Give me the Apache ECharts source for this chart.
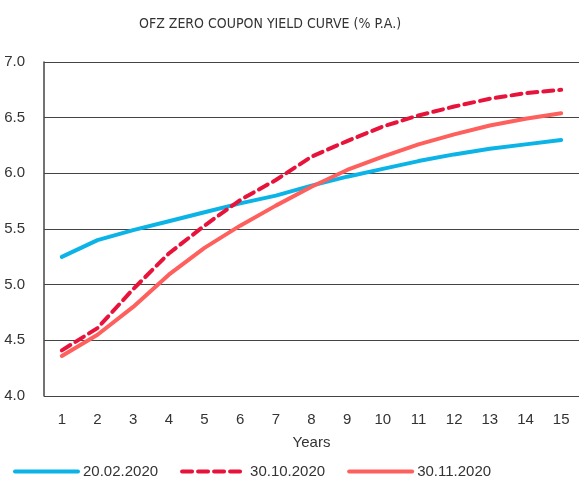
<!DOCTYPE html>
<html>
<head>
<meta charset="utf-8">
<script src="https://cdn.jsdelivr.net/npm/echarts@6/dist/echarts.min.js"></script>
<style>
  html, body { margin: 0; padding: 0; background: #fff; }
  #chart { width: 579px; height: 482px; }
</style>
</head>
<body>
<div id="chart"></div>
<script>
const years = ['1', '2', '3', '4', '5', '6', '7', '8', '9', '10', '11', '12', '13', '14', '15'];
const feb2020 = [5.25, 5.40, 5.49, 5.57, 5.65, 5.73, 5.80, 5.89, 5.97, 6.04, 6.11, 6.17, 6.22, 6.26, 6.30];
const oct2020 = [4.41, 4.61, 4.96, 5.28, 5.53, 5.76, 5.94, 6.15, 6.29, 6.42, 6.52, 6.60, 6.67, 6.72, 6.75];
const nov2020 = [4.36, 4.55, 4.80, 5.09, 5.33, 5.53, 5.71, 5.88, 6.03, 6.15, 6.26, 6.35, 6.43, 6.49, 6.54];
const yTicks = ['4.0', '4.5', '5.0', '5.5', '6.0', '6.5', '7.0'];

const font = 'Liberation Sans';
const textColor = '#333';

const chart = echarts.init(document.getElementById('chart'));

chart.setOption({
    backgroundColor: '#fff',
    animation: false,
    title: {
        text: 'OFZ ZERO COUPON YIELD CURVE (% P.A.)',
        left: 134,
        top: 12,
        textStyle: {
            fontFamily: '"DejaVu Sans Condensed", "Liberation Sans"',
            fontSize: 14,
            fontWeight: 'normal',
            color: textColor
        }
    },
    legend: {
        left: 8,
        bottom: -2,
        itemWidth: 63,
        itemHeight: 14,
        itemGap: 22,
        itemStyle: { opacity: 0 },
        lineStyle: { width: 4 },
        textStyle: { fontFamily: font, fontSize: 15, color: textColor },
        data: ['20.02.2020', '30.10.2020', '30.11.2020']
    },
    grid: {
        left: 44,
        right: -5,
        top: 62,
        bottom: 86
    },
    xAxis: {
        type: 'category',
        data: years,
        boundaryGap: true,
        name: 'Years',
        nameLocation: 'middle',
        nameGap: 39,
        nameTextStyle: { fontFamily: font, fontSize: 15, color: textColor },
        axisLine: { show: false },
        axisTick: { show: false },
        axisLabel: { fontFamily: font, fontSize: 15, color: textColor, margin: 16, interval: 0 }
    },
    yAxis: {
        type: 'value',
        min: 4,
        max: 7,
        interval: 0.5,
        axisLine: { show: true, lineStyle: { color: '#444', width: 1.5 } },
        axisTick: { show: false },
        axisLabel: {
            fontFamily: font,
            fontSize: 15,
            color: textColor,
            margin: 19,
            formatter: (v) => yTicks[Math.round((v - 4) / 0.5)]
        },
        splitLine: { lineStyle: { color: '#444', width: 1.2 } }
    },
    series: [
        {
            name: '20.02.2020',
            type: 'line',
            data: feb2020,
            symbol: 'none',
            lineStyle: { color: '#0bb3e6', width: 4, cap: 'round' },
            itemStyle: { color: '#0bb3e6' }
        },
        {
            name: '30.10.2020',
            type: 'line',
            data: oct2020,
            symbol: 'none',
            lineStyle: { color: '#e8133b', width: 4, type: [10, 6], cap: 'round' },
            itemStyle: { color: '#e8133b' }
        },
        {
            name: '30.11.2020',
            type: 'line',
            data: nov2020,
            symbol: 'none',
            lineStyle: { color: '#fe605e', width: 4, cap: 'round' },
            itemStyle: { color: '#fe605e' }
        }
    ]
});
</script>
</body>
</html>
